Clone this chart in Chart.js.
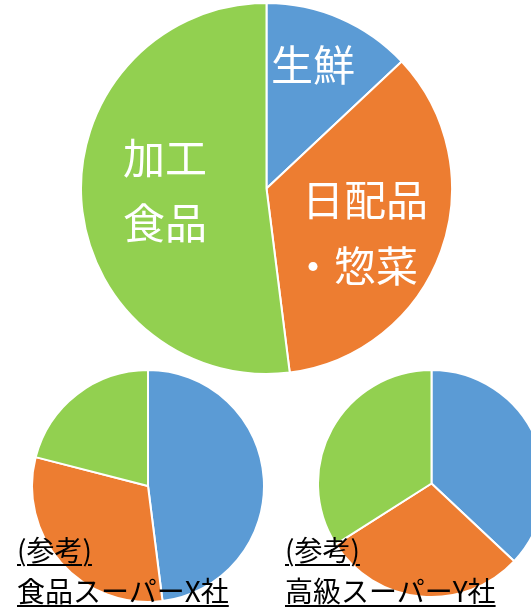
<!DOCTYPE html>
<html>
<head>
<meta charset="utf-8">
<script src="https://cdn.jsdelivr.net/npm/chart.js@4.4.1/dist/chart.umd.min.js"></script>
<style>
  html, body { margin: 0; padding: 0; width: 531px; height: 608px; overflow: hidden; background: #fff; }
  body { position: relative; font-family: "Noto Sans CJK JP", "Noto Sans", sans-serif; }
  .box { position: absolute; }
  .lbl { position: absolute; color: #fff; font-size: 42px; line-height: 1; white-space: nowrap; }
  .cap { position: absolute; color: #000; font-size: 28px; line-height: 1; white-space: nowrap; text-decoration: underline; text-decoration-thickness: 2px; text-underline-offset: 3px; }
</style>
</head>
<body>
<div class="box" style="left:80px;top:2px;width:373px;height:373px;"><canvas id="mainPie"></canvas></div>
<div class="box" style="left:31px;top:369px;width:234px;height:234px;"><canvas id="pieX"></canvas></div>
<div class="box" style="left:317px;top:369px;width:229px;height:229px;"><canvas id="pieY"></canvas></div>

<div class="lbl" style="left:271px;top:42px;">生鮮</div>
<div class="lbl" style="left:123px;top:135px;">加工</div>
<div class="lbl" style="left:123px;top:200px;">食品</div>
<div class="lbl" style="left:302px;top:177px;">日配品</div>
<div class="lbl" style="left:292px;top:243px;">・惣菜</div>

<div class="cap" style="left:17px;top:535px;">(参考)</div>
<div class="cap" style="left:17px;top:576px;">食品スーパーX社</div>
<div class="cap" style="left:285px;top:535px;">(参考)</div>
<div class="cap" style="left:285px;top:576px;">高級スーパーY社</div>

<script>
// 売場構成比 (%)
const categories = ['生鮮', '日配品・惣菜', '加工食品'];
const mainValues = [13, 35, 52];
const superXValues = [48, 31, 21];
const superYValues = [37, 29, 34];
const colors = ['#5B9BD5', '#ED7D31', '#92D050'];

function makePie(id, values) {
  const ctx = document.getElementById(id).getContext('2d');
  return new Chart(ctx, {
    type: 'pie',
    data: {
      labels: categories,
      datasets: [{
        data: values,
        backgroundColor: colors,
        borderColor: '#ffffff',
        borderWidth: 2
      }]
    },
    options: {
      responsive: true,
      maintainAspectRatio: false,
      animation: false,
      devicePixelRatio: 1,
      events: [],
      plugins: {
        legend: { display: false },
        tooltip: { enabled: false }
      }
    }
  });
}

makePie('mainPie', mainValues);
makePie('pieX', superXValues);
makePie('pieY', superYValues);
</script>
</body>
</html>
